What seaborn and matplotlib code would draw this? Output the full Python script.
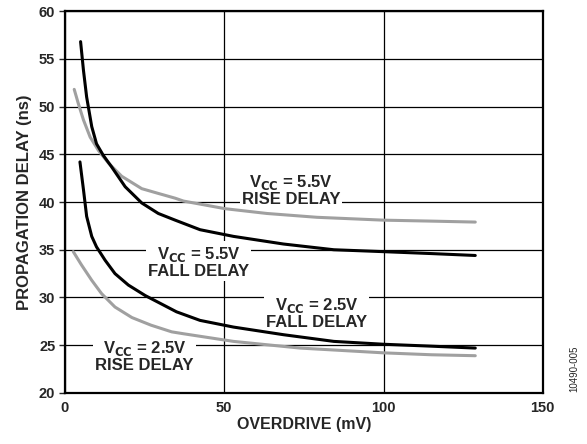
import matplotlib
matplotlib.use("Agg")
import matplotlib.pyplot as plt
import seaborn as sns
import pandas as pd

# ---- data ----
x_55_fall = [4.9, 5.8, 6.8, 8.4, 9.9, 12.0, 14.6, 18.9, 24.1, 29.3, 34.6, 42.4, 52.9,
             68.6, 84.4, 100, 115, 128.8]
y_55_fall = [56.8, 53.8, 51.0, 47.9, 46.1, 44.9, 43.7, 41.6, 39.9, 38.8, 38.1, 37.1, 36.4,
             35.6, 35.0, 34.8, 34.6, 34.4]

x_55_rise = [2.9, 4.2, 5.8, 7.9, 10.5, 13.6, 17.8, 24.1, 29.3, 34.6, 37.2, 50.3, 63.4,
             79.1, 100, 115, 128.8]
y_55_rise = [51.8, 50.3, 48.6, 46.8, 45.4, 44.1, 42.7, 41.4, 40.9, 40.4, 40.1, 39.3, 38.8,
             38.4, 38.1, 38.0, 37.9]

x_25_fall = [4.7, 5.8, 6.8, 8.4, 9.9, 12.6, 15.7, 19.9, 25.2, 30.4, 35.0, 42.4, 52.9,
             68.6, 84.4, 100, 115, 128.8]
y_25_fall = [44.2, 41.3, 38.5, 36.4, 35.3, 33.9, 32.5, 31.3, 30.2, 29.3, 28.5, 27.6, 26.9,
             26.1, 25.4, 25.1, 24.9, 24.7]

x_25_rise = [2.6, 5.2, 8.4, 11.5, 15.7, 21.0, 27.0, 33.5, 37.2, 52.9, 73.8, 100, 115, 128.8]
y_25_rise = [34.8, 33.4, 31.8, 30.4, 29.0, 27.9, 27.1, 26.4, 26.2, 25.4, 24.7, 24.2, 24.0, 23.9]

series_names = ["5.5V FALL", "5.5V RISE", "2.5V FALL", "2.5V RISE"]
x_ticks = [0, 50, 100, 150]
y_ticks = [20, 25, 30, 35, 40, 45, 50, 55, 60]

frames = []
for name, xs, ys in zip(series_names,
                        [x_55_fall, x_55_rise, x_25_fall, x_25_rise],
                        [y_55_fall, y_55_rise, y_25_fall, y_25_rise]):
    frames.append(pd.DataFrame({"x": xs, "y": ys, "series": name}))
df = pd.concat(frames, ignore_index=True)

sns.set_style("white")
plt.rcParams["font.family"] = ["Liberation Sans", "DejaVu Sans"]
plt.rcParams["font.weight"] = "bold"

fig = plt.figure(figsize=(5.87, 4.44), dpi=100)
ax = fig.add_axes([0.1107, 0.115, 0.814, 0.86])

palette = {"5.5V FALL": "black", "2.5V FALL": "black",
           "5.5V RISE": "#a0a0a0", "2.5V RISE": "#a0a0a0"}
# grey first so black draws on top
for name in ["5.5V RISE", "2.5V RISE", "5.5V FALL", "2.5V FALL"]:
    sub = df[df.series == name]
    sns.lineplot(data=sub, x="x", y="y", ax=ax, color=palette[name],
                 lw=2.2, estimator=None, sort=False, zorder=3)

ax.set_xlim(0, 150)
ax.set_ylim(20, 60)
ax.set_xticks(x_ticks)
ax.set_yticks(y_ticks)
ax.grid(True, color="black", lw=0.9)
ax.set_axisbelow(True)
for s in ax.spines.values():
    s.set_color("black")
    s.set_linewidth(1.6)
    s.set_visible(True)

ax.tick_params(axis="y", direction="out", length=4, width=1, left=True, labelsize=10.5, pad=3)
ax.tick_params(axis="x", length=0, labelsize=10.5, pad=6)
for lab in ax.get_xticklabels() + ax.get_yticklabels():
    lab.set_fontweight("bold")

ax.set_xlabel("OVERDRIVE (mV)", fontsize=11.5, fontweight="bold", labelpad=1)
ax.set_ylabel("PROPAGATION DELAY (ns)", fontsize=12, fontweight="bold", labelpad=5)

bbox = dict(facecolor="white", edgecolor="none", pad=1.5)
def label(x, y, text):
    ax.text(x, y, text, ha="center", va="center", fontsize=12, fontweight="bold",
            linespacing=1.0, bbox=bbox, zorder=2)

label(71, 41.3, r"V$_{\mathbf{CC}}$ = 5.5V" + "\nRISE DELAY")
label(42, 33.7, r"V$_{\mathbf{CC}}$ = 5.5V" + "\nFALL DELAY")
label(79, 28.4, r"V$_{\mathbf{CC}}$ = 2.5V" + "\nFALL DELAY")
label(25, 23.9, r"V$_{\mathbf{CC}}$ = 2.5V" + "\nRISE DELAY")

fig.text(0.978, 0.17, "10490-005", rotation=90, fontsize=7, ha="center", va="center",
         fontweight="normal")

fig.savefig("out.png", dpi=100)
